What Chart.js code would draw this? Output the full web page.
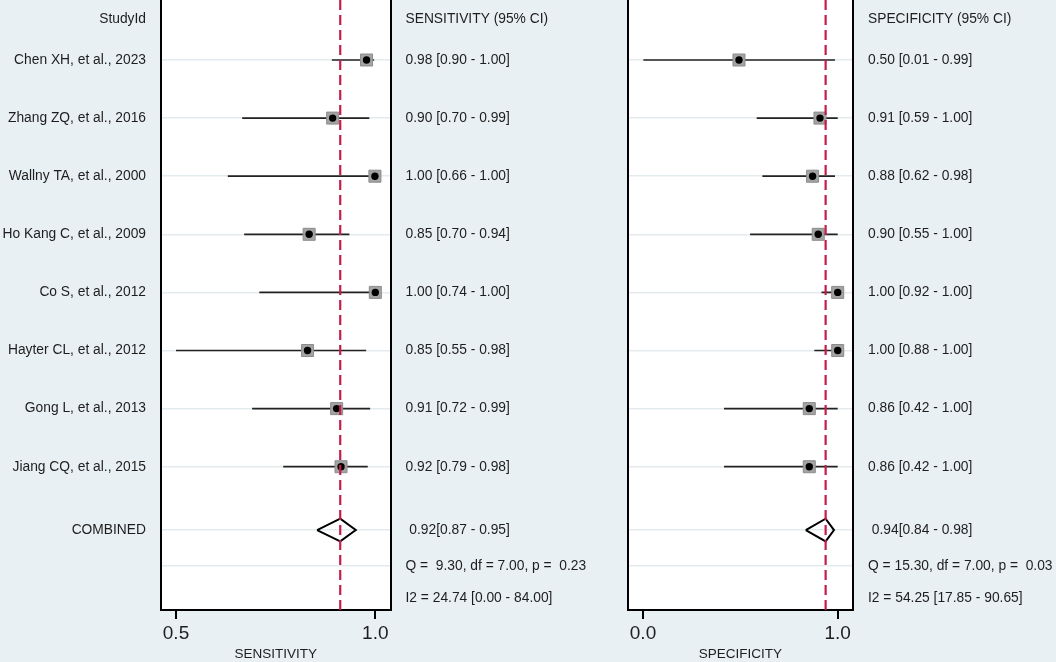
<!DOCTYPE html>
<html>
<head>
<meta charset="utf-8">
<script src="https://cdn.jsdelivr.net/npm/chart.js@4.4.1/dist/chart.umd.min.js"></script>
<style>
html, body { margin: 0; padding: 0; background: #e8f0f3; }
#wrap { position: relative; width: 1056px; height: 662px; overflow: hidden; }
canvas { position: absolute; left: 0; top: 0; }
</style>
</head>
<body>
<div id="wrap">
  <canvas id="c1" width="1056" height="662"></canvas>
  <canvas id="c2" width="1056" height="662"></canvas>
</div>
<script>
// ---------------- DATA ----------------
const studies = [
  "Chen XH, et al., 2023",
  "Zhang ZQ, et al., 2016",
  "Wallny TA, et al., 2000",
  "Ho Kang C, et al., 2009",
  "Co S, et al., 2012",
  "Hayter CL, et al., 2012",
  "Gong L, et al., 2013",
  "Jiang CQ, et al., 2015"
];
// values as plotted
const sensEst = [0.978, 0.893, 0.999, 0.834, 1.000, 0.830, 0.903, 0.914];
const sensLo  = [0.891, 0.666, 0.630, 0.671, 0.709, 0.500, 0.691, 0.769];
const sensHi  = [0.997, 0.985, 1.000, 0.935, 1.000, 0.977, 0.987, 0.981];
const sensPooled = [0.912, 0.854, 0.951]; // estimate, lower, upper

const specEst = [0.493, 0.909, 0.871, 0.900, 1.000, 1.000, 0.854, 0.854];
const specLo  = [0.002, 0.584, 0.613, 0.550, 0.917, 0.880, 0.416, 0.416];
const specHi  = [0.986, 1.000, 0.986, 1.000, 1.000, 1.000, 1.000, 1.000];
const specPooled = [0.938, 0.836, 0.981];

// text labels
const sensText = [
  "0.98 [0.90 - 1.00]", "0.90 [0.70 - 0.99]", "1.00 [0.66 - 1.00]", "0.85 [0.70 - 0.94]",
  "1.00 [0.74 - 1.00]", "0.85 [0.55 - 0.98]", "0.91 [0.72 - 0.99]", "0.92 [0.79 - 0.98]"
];
const specText = [
  "0.50 [0.01 - 0.99]", "0.91 [0.59 - 1.00]", "0.88 [0.62 - 0.98]", "0.90 [0.55 - 1.00]",
  "1.00 [0.92 - 1.00]", "1.00 [0.88 - 1.00]", "0.86 [0.42 - 1.00]", "0.86 [0.42 - 1.00]"
];
const sensPooledText = " 0.92[0.87 - 0.95]";
const specPooledText = " 0.94[0.84 - 0.98]";
const sensQText = "Q =  9.30, df = 7.00, p =  0.23";
const specQText = "Q = 15.30, df = 7.00, p =  0.03";
const sensI2Text = "I2 = 24.74 [0.00 - 84.00]";
const specI2Text = "I2 = 54.25 [17.85 - 90.65]";
const sensTicks = [0.5, 1.0];
const specTicks = [0.0, 1.0];

// ---------------- LAYOUT ----------------
const FONT = "'Liberation Sans', Arial, Helvetica, sans-serif";
const TXT = '#1e1e1e';
const ROWS = studies.map((s, i) => i + 1);
const HEADER_ROW = 0.294, POOLED_ROW = 9.09, Q_ROW = 9.71, I2_ROW = 10.26;
const Y_MIN = -0.0327, Y_MAX = 10.466;
const DIAMOND_HALF = 0.195;
const ROW_TICKS = [HEADER_ROW, ...ROWS, POOLED_ROW, Q_ROW, I2_ROW];
const GRID_ROWS = [...ROWS, POOLED_ROW, Q_ROW];

const whiteArea = {
  id: 'whiteArea',
  beforeDraw(chart) {
    const a = chart.chartArea, ctx = chart.ctx;
    ctx.save();
    ctx.fillStyle = '#ffffff';
    ctx.fillRect(a.left, a.top, a.right - a.left, a.bottom - a.top);
    ctx.restore();
  }
};

function makePanel(id, p) {
  const pts = p.est.map((v, i) => ({ x: v, y: ROWS[i] }));
  const ds = [];
  ds.push({ type: 'line', data: [{ x: p.pooled[0], y: Y_MIN }, { x: p.pooled[0], y: Y_MAX }],
    borderColor: '#c51d4a', borderWidth: 2.2, borderDash: [10, 5], pointRadius: 0 });
  ds.push({ type: 'scatter', data: pts, pointStyle: 'circle', pointRadius: 3.7,
    backgroundColor: '#000', borderColor: '#000', borderWidth: 0 });
  ds.push({ type: 'scatter', data: pts, pointStyle: 'rect', pointRadius: 8.5,
    backgroundColor: '#a3a3a3', borderColor: '#8c8c8c', borderWidth: 1 });
  ds.push({ type: 'line', data: [
      { x: p.pooled[1], y: POOLED_ROW },
      { x: p.pooled[0], y: POOLED_ROW - DIAMOND_HALF },
      { x: p.pooled[2], y: POOLED_ROW },
      { x: p.pooled[0], y: POOLED_ROW + DIAMOND_HALF },
      { x: p.pooled[1], y: POOLED_ROW }
    ], borderColor: '#000', borderWidth: 2, pointRadius: 0, fill: false, tension: 0,
    borderJoinStyle: 'miter' });
  p.lo.forEach((lo, i) => {
    ds.push({ type: 'line', data: [{ x: lo, y: ROWS[i] }, { x: p.hi[i], y: ROWS[i] }],
      borderColor: '#222', borderWidth: 1.7, pointRadius: 0 });
  });

  const setRowTicks = s => { s.ticks = ROW_TICKS.map(v => ({ value: v })); };

  return new Chart(document.getElementById(id), {
    type: 'scatter',
    data: { datasets: ds },
    plugins: [whiteArea],
    options: {
      responsive: false,
      animation: false,
      events: [],
      layout: { padding: 0, autoPadding: false },
      plugins: { legend: { display: false }, tooltip: { enabled: false } },
      scales: {
        x: {
          type: 'linear', min: p.xMin, max: p.xMax,
          afterBuildTicks: s => { s.ticks = p.xTicks.map(v => ({ value: v })); },
          ticks: { callback: v => Number(v).toFixed(1), autoSkip: false, maxRotation: 0,
            font: { family: FONT, size: 19 }, color: TXT, padding: 3.5 },
          grid: { drawOnChartArea: false, drawTicks: true, tickLength: 9, color: '#000', lineWidth: 2 },
          border: { display: true, color: '#000', width: 2 },
          title: { display: true, text: p.xTitle, font: { family: FONT, size: 13.5 }, color: TXT,
            padding: { top: 0, bottom: 0 } },
          afterFit: s => { s.height = 52; s.paddingLeft = 0; s.paddingRight = 0; }
        },
        y: {
          type: 'linear', position: 'left', reverse: true, min: Y_MIN, max: Y_MAX,
          afterBuildTicks: setRowTicks,
          ticks: { callback: (v, i) => p.leftLabels[i], autoSkip: false, padding: 15,
            font: { family: FONT, size: 13.8 }, color: TXT },
          grid: { drawTicks: false, lineWidth: 1.5,
            color: c => (c.tick && GRID_ROWS.includes(c.tick.value)) ? '#e3ebee' : 'rgba(0,0,0,0)' },
          border: { display: true, color: '#000', width: 2 },
          afterFit: s => { s.width = p.leftW; s.paddingTop = 0; s.paddingBottom = 0; }
        },
        y2: {
          type: 'linear', position: 'right', reverse: true, min: Y_MIN, max: Y_MAX,
          afterBuildTicks: setRowTicks,
          ticks: { callback: (v, i) => p.rightLabels[i], autoSkip: false, padding: 15,
            font: { family: FONT, size: 13.8 }, color: TXT },
          grid: { display: false, drawTicks: false },
          border: { display: true, color: '#000', width: 2 },
          afterFit: s => { s.width = p.rightW; s.paddingTop = 0; s.paddingBottom = 0; }
        }
      }
    }
  });
}

makePanel('c1', {
  est: sensEst, lo: sensLo, hi: sensHi, pooled: sensPooled,
  xMin: 0.4624, xMax: 1.0381, xTicks: sensTicks, xTitle: 'SENSITIVITY',
  leftW: 161, rightW: 1056 - 390.5,
  leftLabels: ['StudyId', ...studies, 'COMBINED', '', ''],
  rightLabels: ['SENSITIVITY (95% CI)', ...sensText, sensPooledText, sensQText, sensI2Text]
});
makePanel('c2', {
  est: specEst, lo: specLo, hi: specHi, pooled: specPooled,
  xMin: -0.0786, xMax: 1.0786, xTicks: specTicks, xTitle: 'SPECIFICITY',
  leftW: 627.7, rightW: 1056 - 853,
  leftLabels: ROW_TICKS.map(() => ''),
  rightLabels: ['SPECIFICITY (95% CI)', ...specText, specPooledText, specQText, specI2Text]
});
</script>
</body>
</html>
